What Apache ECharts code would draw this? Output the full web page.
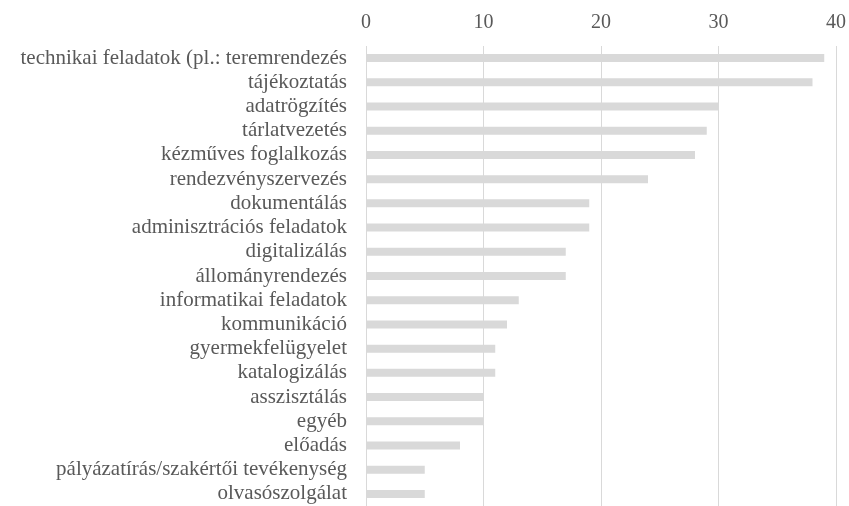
<!DOCTYPE html>
<html>
<head>
<meta charset="utf-8">
<script src="https://cdn.jsdelivr.net/npm/echarts@6/dist/echarts.min.js"></script>
<style>
  html, body { margin: 0; padding: 0; background: #fff; }
  #chart { width: 849px; height: 506px; }
</style>
</head>
<body>
<div id="chart"></div>
<script>
// Activity categories, listed top to bottom
const categories = [
  'technikai feladatok (pl.: teremrendezés',
  'tájékoztatás',
  'adatrögzítés',
  'tárlatvezetés',
  'kézműves foglalkozás',
  'rendezvényszervezés',
  'dokumentálás',
  'adminisztrációs feladatok',
  'digitalizálás',
  'állományrendezés',
  'informatikai feladatok',
  'kommunikáció',
  'gyermekfelügyelet',
  'katalogizálás',
  'asszisztálás',
  'egyéb',
  'előadás',
  'pályázatírás/szakértői tevékenység',
  'olvasószolgálat'
];

// Number of mentions per category
const counts = [39, 38, 30, 29, 28, 24, 19, 19, 17, 17, 13, 12, 11, 11, 10, 10, 8, 5, 5];

// Value axis ticks
const axisMin = 0;
const axisMax = 40;
const axisStep = 10;

const font = '"Liberation Serif", "Times New Roman", serif';
const chart = echarts.init(document.getElementById('chart'));

chart.setOption({
  animation: false,
  grid: { left: 366, right: 12, top: 46, bottom: -2, containLabel: false },
  xAxis: {
    type: 'value',
    position: 'top',
    min: axisMin,
    max: axisMax,
    interval: axisStep,
    axisLine: { show: false },
    axisTick: { show: false },
    axisLabel: { color: '#595959', fontFamily: font, fontSize: 20, margin: 13 },
    splitLine: { lineStyle: { color: '#d9d9d9', width: 1 } }
  },
  yAxis: {
    type: 'category',
    data: categories,
    inverse: true,
    axisLine: { show: false },
    axisTick: { show: false },
    axisLabel: {
      interval: 0,
      color: '#595959',
      fontFamily: font,
      fontSize: 21,
      lineHeight: 22,
      margin: 19
    }
  },
  series: [{
    type: 'bar',
    data: counts,
    barWidth: 8,
    itemStyle: { color: '#d9d9d9' }
  }]
});
</script>
</body>
</html>
